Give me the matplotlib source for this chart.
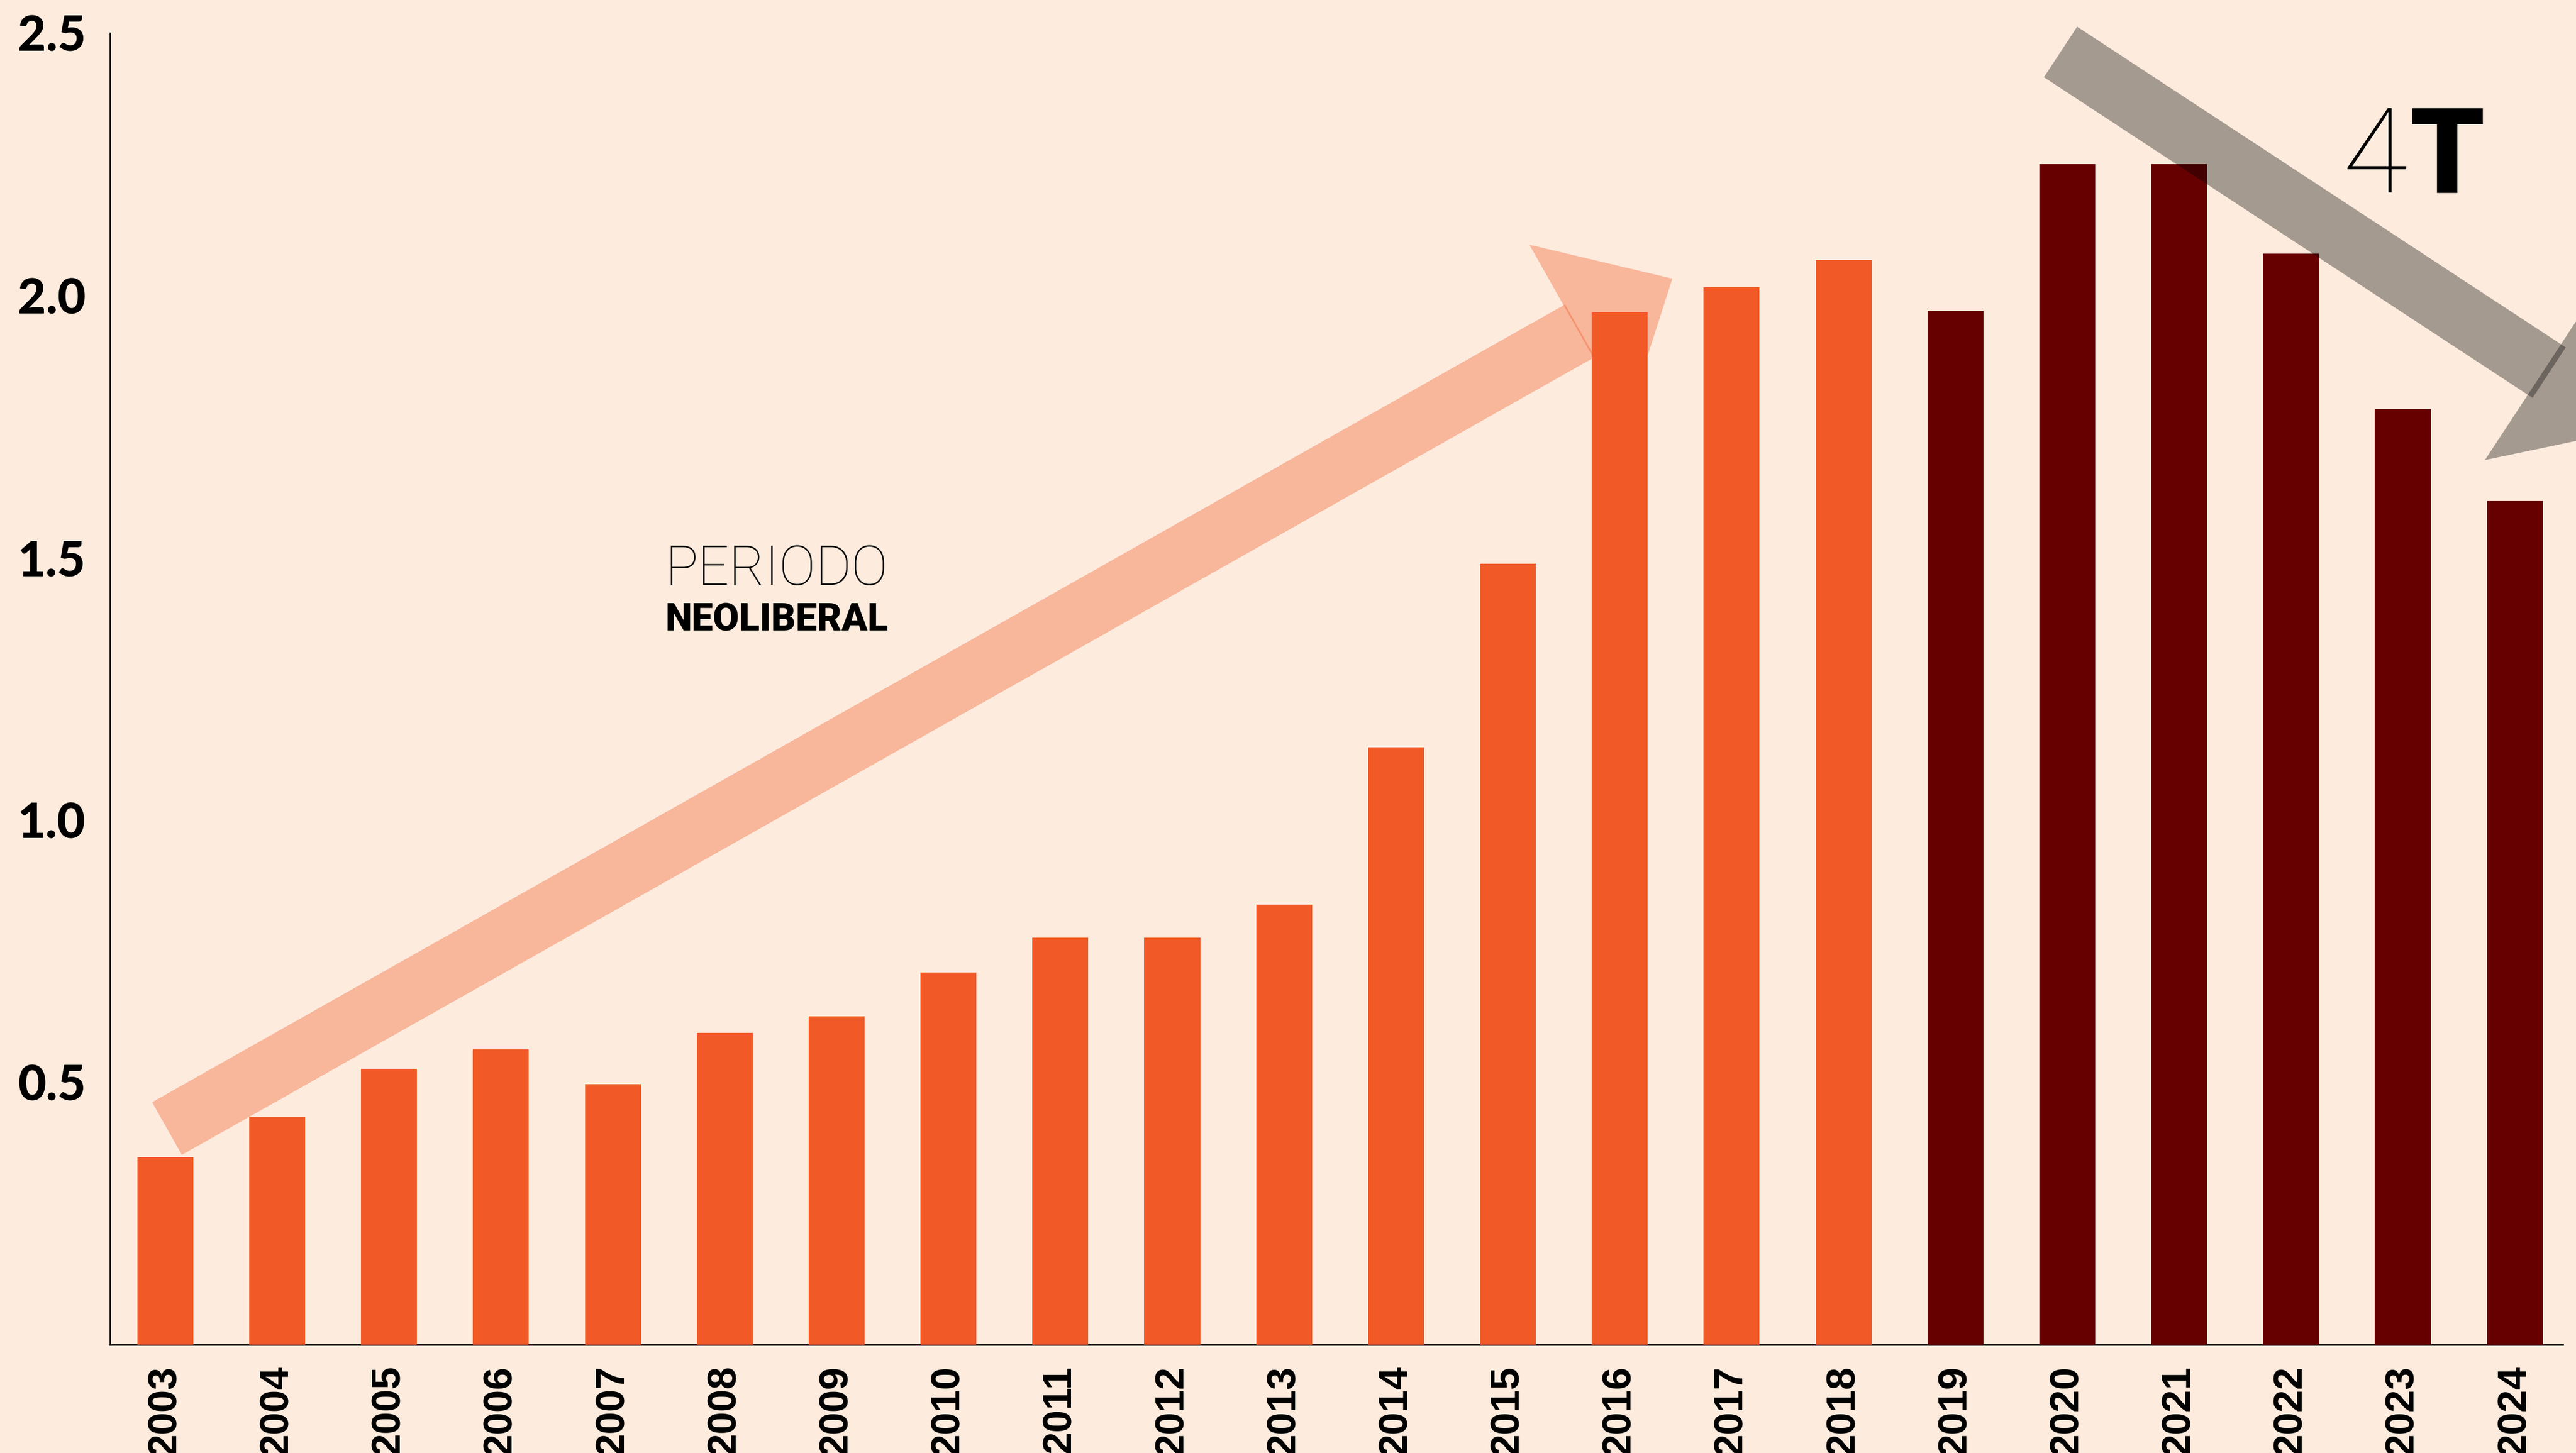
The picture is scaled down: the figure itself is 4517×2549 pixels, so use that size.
import numpy as np
import matplotlib
matplotlib.use('Agg')
import matplotlib.pyplot as plt
from matplotlib.patches import Polygon
from matplotlib.transforms import IdentityTransform

# ----------------------------------------------------------------- data
years = [2003, 2004, 2005, 2006, 2007, 2008, 2009, 2010, 2011, 2012, 2013,
         2014, 2015, 2016, 2017, 2018, 2019, 2020, 2021, 2022, 2023, 2024]
values = [0.357, 0.435, 0.526, 0.563, 0.497, 0.594, 0.626, 0.710, 0.776, 0.776, 0.839,
          1.139, 1.489, 1.968, 2.015, 2.068, 1.971, 2.250, 2.250, 2.080, 1.783, 1.608]
first_4t_year = 2019
y_ticks = [0.5, 1.0, 1.5, 2.0, 2.5]
y_tick_labels = ['0.5', '1.0', '1.5', '2.0', '2.5']

# arrows: (tail, tip) in data coords (x = bar index, y = value)
neolib_arrow = [(0.015, 0.412), (13.47, 2.032)]
cuatro_t_arrow = [(16.94, 2.464), (22.07, 1.746)]

# ----------------------------------------------------------------- style
BG = '#FDEBDD'
ORANGE = '#F15A27'
DARK = '#660000'

W, H, DPI = 4517, 2549, 300
fig = plt.figure(figsize=(W / DPI, H / DPI), dpi=DPI, facecolor=BG)
ax = fig.add_axes([193 / W, 1 - 2359 / H, (4494 - 193) / W, (2359 - 58) / H])
ax.set_facecolor(BG)

x = np.arange(len(years))
bar_colors = [ORANGE if y < first_4t_year else DARK for y in years]
ax.bar(x, values, width=0.5, color=bar_colors, zorder=3)

ax.set_xlim(-0.494, 21.43)
ax.set_ylim(0, 2.5)

for s in ['top', 'right']:
    ax.spines[s].set_visible(False)
for s in ['left', 'bottom']:
    ax.spines[s].set_linewidth(0.65)
    ax.spines[s].set_color('black')

ax.set_yticks(y_ticks)
ax.set_yticklabels(y_tick_labels, fontfamily='Lato', fontweight='black', fontsize=20.5)
ax.set_xticks(x)
ax.set_xticklabels([str(y) for y in years], rotation=90, fontfamily='Liberation Sans',
                   fontweight='bold', fontsize=17)
ax.tick_params(axis='y', length=0, pad=10.3)
ax.tick_params(axis='x', length=0, pad=8.6)
for lab in ax.get_xticklabels():
    lab.set_va('top')


def fat_arrow(ax, tail, tip, shaft_w, head_w, head_l, color, alpha, z, overlap):
    # built in pixel space so the shape isn't skewed by the axis aspect
    p0 = ax.transData.transform(tail)
    p1 = ax.transData.transform(tip)
    d = p1 - p0
    u = d / np.hypot(*d)
    n = np.array([-u[1], u[0]])
    base = p1 - u * head_l
    shaft_end = base + u * overlap
    shaft = [p0 + n * shaft_w / 2, shaft_end + n * shaft_w / 2,
             shaft_end - n * shaft_w / 2, p0 - n * shaft_w / 2]
    head = [base + n * head_w / 2, p1, base - n * head_w / 2]
    for pts in (shaft, head):
        ax.add_patch(Polygon(pts, closed=True, transform=IdentityTransform(),
                             facecolor=color, edgecolor='none', alpha=alpha,
                             zorder=z, clip_on=False))


fat_arrow(ax, neolib_arrow[0], neolib_arrow[1], 106, 350, 189, ORANGE, 0.36, 1, 3)
fat_arrow(ax, cuatro_t_arrow[0], cuatro_t_arrow[1], 106, 380, 189, 'black', 0.345, 5, 10)

# labels
ax.text(4.47, 1.448, 'PERIODO', fontfamily='Roboto', fontweight='light', fontsize=23,
        ha='left', va='baseline', zorder=6)
ax.text(4.47, 1.361, 'NEOLIBERAL', fontfamily='Roboto', fontweight='black', fontsize=16,
        ha='left', va='baseline', zorder=6)
ax.text(20.04, 2.196, '4', fontfamily='Roboto', fontweight='light', fontsize=50,
        ha='right', va='baseline', zorder=6)
ax.text(20.06, 2.196, 'T', fontfamily='Roboto', fontweight='black', fontsize=50,
        ha='left', va='baseline', zorder=6)

fig.savefig('out.png', dpi=DPI, facecolor=BG)
